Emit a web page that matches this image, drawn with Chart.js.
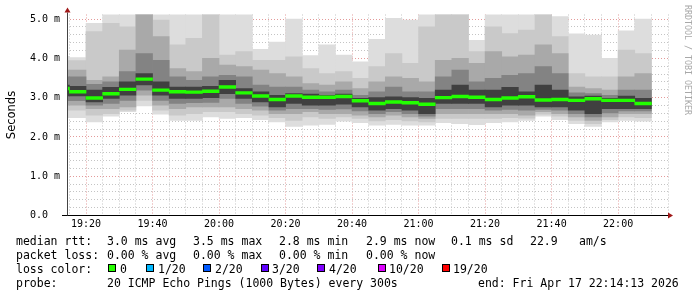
<!DOCTYPE html>
<html>
<head>
<meta charset="utf-8">
<script src="https://cdn.jsdelivr.net/npm/chart.js@4.4.1/dist/chart.umd.min.js"></script>
<style>
  body { margin: 0; background: #fff; }
  #wrap { position: relative; width: 697px; height: 297px; overflow: hidden;
          font-family: "DejaVu Sans Mono", monospace; font-size: 11.5px; color: #000; }
  #chart { position: absolute; left: 0; top: 0; }
  .t { position: absolute; white-space: pre; line-height: 14px; }
  .sw { position: absolute; top: 264px; width: 8px; height: 8px; box-sizing: border-box; border: 1px solid #000; }
  #mark { position: absolute; left: 682px; top: 5px; writing-mode: vertical-rl; font-size: 8.3px;
          line-height: 12px; color: #a8a8a8; white-space: pre; }
</style>
</head>
<body>
<div id="wrap">
  <canvas id="chart" width="697" height="297"></canvas>
  <div id="mark">RRDTOOL / TOBI OETIKER</div>

  <div class="t" style="left:16px;top:234px">median rtt:</div>
  <div class="t" style="left:107px;top:234px">3.0 ms avg</div>
  <div class="t" style="left:193px;top:234px">3.5 ms max</div>
  <div class="t" style="left:279px;top:234px">2.8 ms min</div>
  <div class="t" style="left:366px;top:234px">2.9 ms now</div>
  <div class="t" style="left:451px;top:234px">0.1 ms sd</div>
  <div class="t" style="left:530px;top:234px">22.9</div>
  <div class="t" style="left:579px;top:234px">am/s</div>

  <div class="t" style="left:16px;top:248px">packet loss:</div>
  <div class="t" style="left:107px;top:248px">0.00 % avg</div>
  <div class="t" style="left:193px;top:248px">0.00 % max</div>
  <div class="t" style="left:279px;top:248px">0.00 % min</div>
  <div class="t" style="left:366px;top:248px">0.00 % now</div>

  <div class="t" style="left:16px;top:262px">loss color:</div>
  <div class="sw" style="left:108px;background:#26ff00"></div><div class="t" style="left:120px;top:262px">0</div>
  <div class="sw" style="left:146px;background:#00b8ff"></div><div class="t" style="left:158px;top:262px">1/20</div>
  <div class="sw" style="left:203px;background:#0059ff"></div><div class="t" style="left:215px;top:262px">2/20</div>
  <div class="sw" style="left:261px;background:#5e00ff"></div><div class="t" style="left:272px;top:262px">3/20</div>
  <div class="sw" style="left:317px;background:#7e00ff"></div><div class="t" style="left:329px;top:262px">4/20</div>
  <div class="sw" style="left:378px;background:#dd00ff"></div><div class="t" style="left:389px;top:262px">10/20</div>
  <div class="sw" style="left:442px;background:#ff0000"></div><div class="t" style="left:453px;top:262px">19/20</div>

  <div class="t" style="left:16px;top:276px">probe:</div>
  <div class="t" style="left:107px;top:276px">20 ICMP Echo Pings (1000 Bytes) every 300s</div>
  <div class="t" style="left:478px;top:276px">end: Fri Apr 17 22:14:13 2026</div>
</div>

<script>
// 5-minute rrd steps (start of each step)
const slots = ['19:10','19:15','19:20','19:25','19:30','19:35','19:40','19:45','19:50','19:55',
               '20:00','20:05','20:10','20:15','20:20','20:25','20:30','20:35','20:40','20:45','20:50','20:55',
               '21:00','21:05','21:10','21:15','21:20','21:25','21:30','21:35','21:40','21:45','21:50','21:55',
               '22:00','22:05'];

// smoke envelope, ms (outermost ping pair -> innermost)
const pingMax  = [4.05,4.02,4.89,5.30,5.30,5.30,5.30,5.30,5.30,5.30,5.30,5.30,4.23,4.41,5.00,4.07,4.34,4.08,
                  3.91,4.48,5.02,4.97,5.30,5.30,5.30,4.46,5.30,5.30,5.30,5.30,5.06,4.62,4.59,4.00,4.70,5.00];
const band2Hi  = [3.94,3.94,4.68,4.89,4.80,5.30,4.97,4.34,4.51,5.25,4.08,4.17,3.95,3.95,4.04,3.74,3.61,3.66,
                  3.49,3.79,4.12,3.87,4.80,5.25,5.25,4.17,4.80,4.63,4.72,5.25,4.55,3.61,3.53,3.53,4.21,4.12];
const band3Hi  = [3.70,3.70,3.44,3.53,4.21,5.25,4.55,3.74,3.66,4.00,3.83,3.79,3.70,3.61,3.53,3.36,3.32,3.40,
                  3.23,3.40,3.53,3.49,3.40,3.95,4.00,3.87,4.17,4.04,4.08,4.34,4.12,3.27,3.23,3.19,3.53,3.61];
const band4Hi  = [3.53,3.53,3.34,3.40,3.66,4.12,3.95,3.53,3.44,3.53,3.57,3.53,3.32,3.27,3.27,3.19,3.15,3.19,
                  3.06,3.15,3.27,3.15,3.15,3.53,3.70,3.40,3.49,3.57,3.61,3.79,3.61,3.12,3.10,3.06,3.19,3.19];
const band5Hi  = [3.32,3.29,3.19,3.26,3.40,3.61,3.40,3.27,3.27,3.29,3.44,3.23,3.15,3.06,3.10,3.09,3.06,3.09,
                  2.98,3.00,3.02,3.00,2.98,3.19,3.32,3.19,3.19,3.26,3.15,3.32,3.19,3.02,3.04,2.98,3.04,2.98];
const median   = [3.23,3.15,2.99,3.10,3.21,3.47,3.19,3.15,3.14,3.16,3.27,3.12,3.04,2.95,3.04,3.01,3.01,3.03,
                  2.92,2.85,2.89,2.87,2.83,3.00,3.03,3.01,2.95,2.99,3.02,2.94,2.95,2.93,2.97,2.93,2.93,2.85];
const band5Lo  = [3.04,3.04,2.89,2.98,3.06,3.32,3.06,2.98,2.98,3.00,3.10,2.98,2.89,2.76,2.85,2.81,2.81,2.83,
                  2.76,2.68,2.72,2.68,2.59,2.85,2.85,2.85,2.76,2.81,2.81,2.76,2.76,2.68,2.59,2.72,2.72,2.72];
const band4Lo  = [2.92,2.92,2.81,2.85,2.93,3.19,2.93,2.85,2.87,2.88,2.98,2.85,2.78,2.68,2.72,2.72,2.70,2.71,
                  2.66,2.59,2.64,2.59,2.53,2.72,2.72,2.72,2.68,2.70,2.68,2.70,2.68,2.59,2.51,2.61,2.66,2.66];
const band3Lo  = [2.81,2.81,2.72,2.72,2.76,3.06,2.81,2.72,2.76,2.76,2.76,2.72,2.68,2.59,2.59,2.64,2.59,2.59,
                  2.55,2.51,2.55,2.51,2.47,2.59,2.59,2.59,2.59,2.59,2.55,2.64,2.59,2.51,2.42,2.51,2.59,2.59];
const band2Lo  = [2.68,2.68,2.55,2.59,2.68,2.93,2.68,2.55,2.59,2.64,2.64,2.59,2.55,2.49,2.42,2.51,2.47,2.51,
                  2.47,2.41,2.44,2.41,2.38,2.47,2.47,2.47,2.47,2.49,2.48,2.58,2.53,2.42,2.34,2.44,2.51,2.49];
const pingMin  = [2.49,2.49,2.38,2.53,2.64,2.79,2.58,2.42,2.42,2.51,2.47,2.49,2.44,2.38,2.27,2.30,2.32,2.40,
                  2.36,2.30,2.32,2.30,2.30,2.36,2.34,2.31,2.36,2.38,2.42,2.53,2.44,2.34,2.27,2.38,2.42,2.40];

const yTickLabels = ['0.0', '1.0 m', '2.0 m', '3.0 m', '4.0 m', '5.0 m'];
const xTickLabels = ['19:20','19:40','20:00','20:20','20:40','21:00','21:20','21:40','22:00'];

const shades = ['#dddddd', '#c9c9c9', '#a9a9a9', '#838383', '#404040'];
const medianColor = '#22ff00';
const minorGrid = '#c4c4c4';
const majorGrid = '#e39a9a';

// minutes past 19:00
const toMin = s => { const [h, m] = s.split(':').map(Number); return (h - 19) * 60 + m; };
const fmt = v => { const h = 19 + Math.floor(v / 60), m = v % 60; return h + ':' + String(m).padStart(2, '0'); };
const mids = slots.map(s => toMin(s) + 2.5);
const band = (lo, hi) => mids.map((x, i) => ({ x, y: [lo[i], hi[i]] }));

const common = { grouped: false, barPercentage: 1, categoryPercentage: 1, borderWidth: 0 };
const datasets = [
  { ...common, label: 'median', order: 0, backgroundColor: medianColor,
    data: mids.map((x, i) => ({ x, y: [median[i] - 0.035, median[i] + 0.035] })) },
  { ...common, label: 'b5', order: 1, backgroundColor: shades[4], data: band(band5Lo, band5Hi) },
  { ...common, label: 'b4', order: 2, backgroundColor: shades[3], data: band(band4Lo, band4Hi) },
  { ...common, label: 'b3', order: 3, backgroundColor: shades[2], data: band(band3Lo, band3Hi) },
  { ...common, label: 'b2', order: 4, backgroundColor: shades[1], data: band(band2Lo, band2Hi) },
  { ...common, label: 'b1', order: 5, backgroundColor: shades[0], data: band(pingMin, pingMax) }
];

const axes = {
  id: 'axes',
  afterDraw(chart) {
    const { ctx, chartArea: a } = chart;
    ctx.save();
    ctx.lineWidth = 1;
    ctx.strokeStyle = '#000';
    ctx.beginPath(); ctx.moveTo(a.left - 5, a.bottom); ctx.lineTo(a.right, a.bottom); ctx.stroke();
    ctx.strokeStyle = '#444';
    ctx.beginPath(); ctx.moveTo(a.left + 0.5, a.bottom); ctx.lineTo(a.left + 0.5, a.top - 2); ctx.stroke();
    ctx.fillStyle = '#a01818';
    ctx.beginPath();
    ctx.moveTo(a.right, a.bottom - 3); ctx.lineTo(a.right + 5, a.bottom); ctx.lineTo(a.right, a.bottom + 3);
    ctx.closePath(); ctx.fill();
    ctx.beginPath();
    ctx.moveTo(a.left - 2.5, a.top - 2); ctx.lineTo(a.left + 0.5, a.top - 7); ctx.lineTo(a.left + 3.5, a.top - 2);
    ctx.closePath(); ctx.fill();
    ctx.restore();
  }
};

Chart.defaults.font.family = '"DejaVu Sans Mono", monospace';

new Chart(document.getElementById('chart'), {
  type: 'bar',
  data: { datasets },
  plugins: [axes],
  options: {
    responsive: false,
    animation: false,
    layout: { padding: { left: 0, top: 14.5, right: 29, bottom: 0 } },
    plugins: { legend: { display: false }, tooltip: { enabled: false } },
    scales: {
      x: {
        type: 'linear', min: 14.28, max: 195, offset: false, z: 1,
        afterBuildTicks: s => {
          const t = [];
          for (let m = 15; m <= 195; m += 5) t.push({ value: m });
          s.ticks = t;
        },
        afterFit: s => { s.height = 81.5; },
        grid: { offset: false, drawTicks: false, color: c => (c.tick.value % 20 === 0 ? majorGrid : minorGrid) },
        border: { display: false, dash: [1, 2] },
        ticks: {
          autoSkip: false, maxRotation: 0, padding: 3, color: '#000', font: { size: 10 },
          callback: v => (xTickLabels.includes(fmt(v)) ? fmt(v) : '')
        }
      },
      y: {
        min: 0, max: 5.115, z: 1,
        afterBuildTicks: s => {
          const t = [];
          for (let k = 0; k <= 25; k++) t.push({ value: k / 5 });
          s.ticks = t;
        },
        afterFit: s => { s.width = 67; },
        grid: { drawTicks: false,
                color: c => (Math.abs(c.tick.value - Math.round(c.tick.value)) < 1e-6 ? majorGrid : minorGrid) },
        border: { display: false, dash: [1, 2] },
        ticks: {
          autoSkip: false, padding: 7, color: '#000', font: { size: 10 },
          callback: v => (Math.abs(v - Math.round(v)) < 1e-6 ? yTickLabels[Math.round(v)].padEnd(5) : '')
        },
        title: { display: true, text: 'Seconds', color: '#000',
                 font: { family: '"DejaVu Sans", sans-serif', size: 11.5 }, padding: { top: 5, bottom: 0 } }
      }
    }
  }
});
</script>
</body>
</html>
